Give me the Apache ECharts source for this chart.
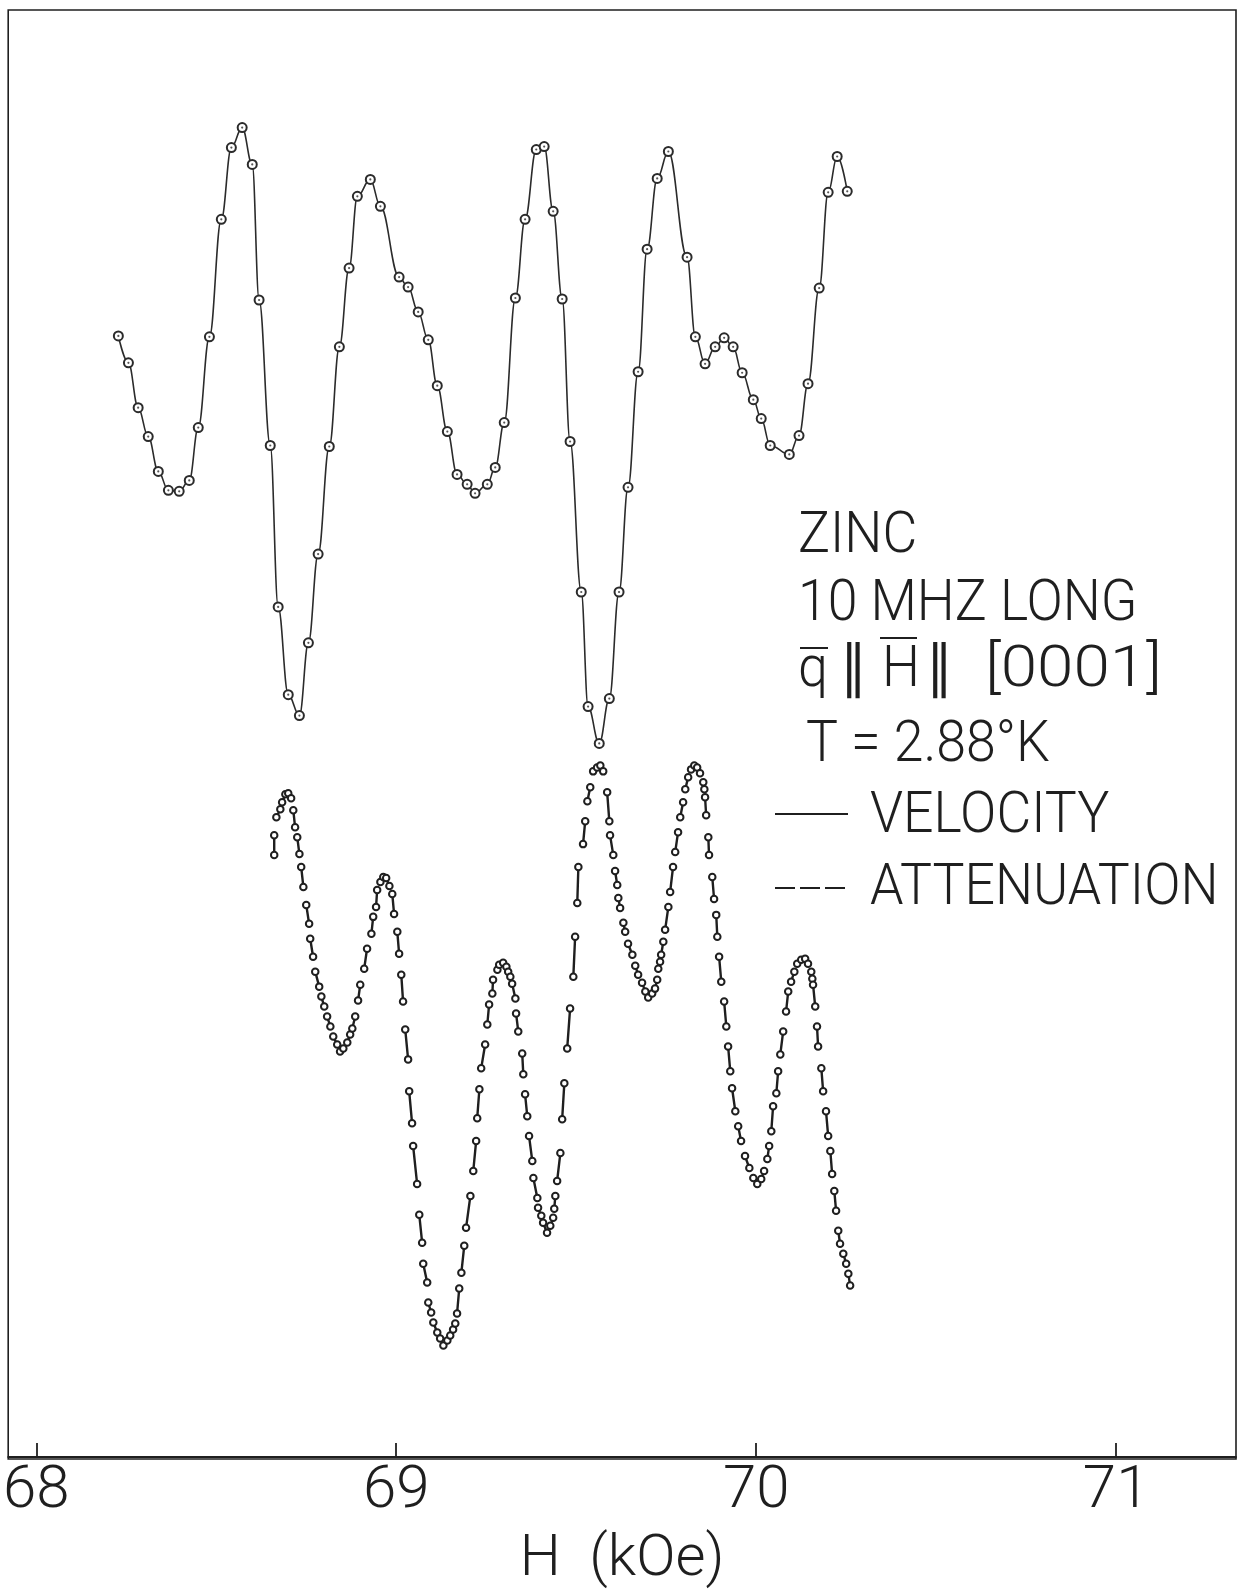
<!DOCTYPE html>
<html>
<head>
<meta charset="utf-8">
<title>Zinc 10 MHz long</title>
<script src="https://cdn.jsdelivr.net/npm/echarts@6/dist/echarts.min.js"></script>
<style>
  html, body { margin: 0; padding: 0; background: #fff; }
  #main { width: 1247px; height: 1594px; }
</style>
</head>
<body>
<div id="main"></div>
<script>
// field H (kOe) and signal (arbitrary units) - velocity
const velH = [68.228, 68.256, 68.283, 68.311, 68.339, 68.367, 68.397, 68.425, 68.450, 68.481,
  68.514, 68.542, 68.572, 68.600, 68.619, 68.650, 68.672, 68.700, 68.731, 68.756,
  68.783, 68.814, 68.842, 68.869, 68.892, 68.928, 68.956, 69.008, 69.033, 69.061,
  69.089, 69.114, 69.142, 69.169, 69.197, 69.219, 69.253, 69.275, 69.300, 69.331,
  69.358, 69.389, 69.411, 69.436, 69.461, 69.483, 69.514, 69.533, 69.564, 69.592,
  69.619, 69.644, 69.672, 69.697, 69.725, 69.756, 69.808, 69.831, 69.858, 69.886,
  69.911, 69.936, 69.961, 69.992, 70.014, 70.039, 70.092, 70.119, 70.144, 70.175,
  70.200, 70.225, 70.253];
const velSig = [112.5, 109.8, 105.3, 102.4, 98.9, 97.0, 96.9, 98.0, 103.3, 112.4,
  124.2, 131.4, 133.4, 129.7, 116.1, 101.5, 85.3, 76.5, 74.4, 81.7,
  90.6, 101.4, 111.4, 119.3, 126.5, 128.2, 125.5, 118.4, 117.4, 114.9,
  112.1, 107.5, 102.9, 98.6, 97.6, 96.7, 97.6, 99.3, 103.8, 116.3,
  124.2, 131.2, 131.5, 125.0, 116.2, 101.9, 86.8, 75.3, 71.6, 76.1,
  86.8, 97.3, 108.9, 121.2, 128.3, 131.0, 120.4, 112.4, 109.7, 111.4,
  112.3, 111.4, 108.8, 106.1, 104.2, 101.5, 100.6, 102.5, 107.7, 117.3,
  126.9, 130.5, 127.0];

// attenuation: plotted points, every two consecutive points form one dash
const attH = [68.661, 68.661, 68.667, 68.678, 68.683, 68.692, 68.700, 68.708, 68.714, 68.719,
  68.725, 68.731, 68.736, 68.742, 68.750, 68.758, 68.761, 68.769, 68.775, 68.786,
  68.792, 68.800, 68.808, 68.817, 68.825, 68.836, 68.844, 68.853, 68.864, 68.872,
  68.878, 68.886, 68.894, 68.900, 68.911, 68.919, 68.931, 68.936, 68.944, 68.947,
  68.956, 68.964, 68.972, 68.981, 68.989, 68.994, 69.003, 69.008, 69.014, 69.019,
  69.025, 69.033, 69.036, 69.044, 69.047, 69.058, 69.064, 69.072, 69.075, 69.086,
  69.089, 69.097, 69.103, 69.114, 69.122, 69.131, 69.142, 69.150, 69.158, 69.164,
  69.169, 69.175, 69.181, 69.189, 69.194, 69.206, 69.214, 69.222, 69.225, 69.231,
  69.236, 69.247, 69.253, 69.258, 69.267, 69.269, 69.281, 69.286, 69.297, 69.306,
  69.311, 69.317, 69.322, 69.331, 69.333, 69.339, 69.350, 69.353, 69.358, 69.364,
  69.369, 69.378, 69.381, 69.392, 69.394, 69.403, 69.408, 69.419, 69.428, 69.436,
  69.439, 69.442, 69.447, 69.456, 69.461, 69.467, 69.475, 69.483, 69.492, 69.497,
  69.503, 69.506, 69.519, 69.525, 69.531, 69.539, 69.547, 69.558, 69.567, 69.575,
  69.586, 69.592, 69.594, 69.603, 69.608, 69.614, 69.617, 69.622, 69.631, 69.636,
  69.644, 69.656, 69.664, 69.672, 69.683, 69.692, 69.700, 69.711, 69.719, 69.725,
  69.728, 69.733, 69.736, 69.742, 69.747, 69.756, 69.761, 69.769, 69.775, 69.783,
  69.789, 69.797, 69.803, 69.811, 69.819, 69.828, 69.836, 69.844, 69.853, 69.856,
  69.858, 69.861, 69.867, 69.869, 69.878, 69.883, 69.889, 69.892, 69.897, 69.903,
  69.911, 69.917, 69.922, 69.928, 69.933, 69.942, 69.950, 69.958, 69.969, 69.981,
  69.992, 70.003, 70.014, 70.022, 70.031, 70.036, 70.042, 70.047, 70.056, 70.061,
  70.067, 70.075, 70.083, 70.089, 70.097, 70.106, 70.114, 70.125, 70.136, 70.144,
  70.153, 70.156, 70.158, 70.164, 70.169, 70.172, 70.181, 70.186, 70.194, 70.200,
  70.206, 70.211, 70.217, 70.222, 70.228, 70.233, 70.242, 70.250, 70.256, 70.261];
const attSig = [60.4, 62.4, 64.2, 65.0, 65.7, 66.5, 66.6, 66.1, 64.9, 63.2,
  62.2, 60.5, 59.2, 57.2, 55.4, 53.5, 52.0, 50.2, 48.7, 47.2,
  46.2, 45.2, 44.2, 43.2, 42.2, 41.4, 40.7, 41.0, 41.6, 42.4,
  43.0, 44.2, 45.8, 47.4, 49.0, 51.0, 52.5, 54.2, 55.2, 56.9,
  57.7, 58.2, 58.1, 57.3, 56.5, 54.5, 52.7, 50.5, 48.4, 45.7,
  42.9, 39.9, 36.7, 33.5, 31.2, 27.4, 24.3, 21.5, 19.4, 17.5,
  15.5, 14.5, 13.5, 12.5, 11.9, 11.2, 11.7, 12.2, 12.8, 13.4,
  14.4, 16.9, 18.5, 21.2, 23.0, 26.2, 28.7, 31.7, 34.0, 36.9,
  39.0, 41.4, 43.4, 45.4, 46.5, 47.9, 48.9, 49.4, 49.6, 49.2,
  48.7, 48.2, 47.5, 46.0, 44.5, 42.7, 40.5, 38.4, 36.4, 34.2,
  32.2, 29.7, 28.0, 26.0, 25.0, 24.2, 23.5, 22.5, 23.2, 24.0,
  24.9, 26.2, 27.7, 30.5, 33.9, 37.5, 41.0, 45.0, 48.2, 52.2,
  55.6, 59.2, 61.5, 63.8, 65.8, 67.2, 68.8, 69.2, 69.4, 68.8,
  66.7, 63.8, 62.4, 60.4, 58.8, 57.4, 56.1, 55.1, 53.6, 52.7,
  51.5, 50.4, 49.3, 48.4, 47.6, 46.7, 46.1, 46.5, 47.0, 47.9,
  49.0, 49.7, 50.4, 51.7, 52.9, 55.2, 56.7, 59.2, 60.7, 62.7,
  64.2, 65.7, 67.0, 68.2, 69.0, 69.4, 69.2, 68.6, 67.7, 67.0,
  66.2, 64.4, 62.2, 60.4, 58.2, 56.0, 54.4, 52.2, 50.2, 47.7,
  45.7, 43.2, 41.2, 38.7, 37.0, 34.7, 33.2, 31.7, 30.2, 29.0,
  28.0, 27.4, 27.9, 28.7, 29.9, 31.2, 32.7, 35.2, 36.5, 38.7,
  40.4, 42.7, 44.7, 46.7, 47.7, 48.7, 49.5, 49.9, 50.0, 49.5,
  48.7, 48.0, 47.4, 45.2, 43.2, 41.2, 39.0, 36.7, 34.7, 32.2,
  30.7, 28.4, 26.7, 24.7, 22.7, 21.4, 20.4, 19.4, 18.4, 17.2];

const tickValues = [68, 69, 70, 71];
const infoLines = ['ZINC', '10 MHZ LONG', 'T = 2.88\u00b0K'];
const vectorParts = ['q', '\u2225', 'H', '\u2225', '[0001]'];
const legendNames = ['VELOCITY', 'ATTENUATION'];

const ink = '#1f1f1f';
const font = 'Roboto, "Liberation Sans", "DejaVu Sans", sans-serif';

const velData = velH.map((h, i) => [h, velSig[i]]);
const attData = [];
for (let i = 0; i < attH.length; i += 2) {
  attData.push([attH[i], attSig[i]], [attH[i + 1], attSig[i + 1]], [attH[i + 1], '-']);
}

const chart = echarts.init(document.getElementById('main'));

function label(t, x, y, sx) {
  return {
    type: 'text', x: x, y: y, scaleX: sx || 0.94,
    style: { text: t, fill: ink, font: '300 57px ' + font, textAlign: 'left', textVerticalAlign: 'top' }
  };
}

// text block at the right
const graphics = [];
graphics.push(label(infoLines[0], 798, 509));
graphics.push(label(infoLines[1], 798, 577));
graphics.push(label(infoLines[2], 806, 718));
const partX = [798, 840, 882, 926, 985];
const partScale = [0.94, 0.94, 0.94, 0.94, 1.15];
vectorParts.forEach((t, i) => graphics.push(label(t, partX[i], 643, partScale[i])));
// vector bars over q and H
graphics.push({ type: 'line', shape: { x1: 800, y1: 648, x2: 828, y2: 648 }, style: { stroke: ink, lineWidth: 2 } });
graphics.push({ type: 'line', shape: { x1: 880, y1: 638, x2: 917, y2: 638 }, style: { stroke: ink, lineWidth: 2 } });
// legend keys
graphics.push({ type: 'line', shape: { x1: 775, y1: 814, x2: 848, y2: 814 }, style: { stroke: ink, lineWidth: 2.2 } });
graphics.push({ type: 'line', shape: { x1: 775, y1: 888, x2: 850, y2: 888 }, style: { stroke: ink, lineWidth: 2.2, lineDash: [20, 5] } });
legendNames.forEach((t, i) => graphics.push(label(t, 870, 789 + i * 72)));

chart.setOption({
  backgroundColor: '#ffffff',
  animation: false,
  grid: {
    left: 8, right: 11, top: 10, bottom: 130,
    show: true, borderColor: ink, borderWidth: 1.6, backgroundColor: 'transparent'
  },
  xAxis: {
    type: 'value',
    min: 67.922,
    max: 71.333,
    name: 'H  (kOe)',
    nameLocation: 'middle',
    nameGap: 72,
    nameTextStyle: { fontFamily: font, fontWeight: 300, fontSize: 58, color: ink },
    axisLine: { show: true, lineStyle: { color: ink, width: 1.8 } },
    axisTick: { show: true, inside: true, length: 14, lineStyle: { color: ink, width: 1.8 }, customValues: tickValues },
    axisLabel: { show: true, margin: 3, fontFamily: font, fontWeight: 300, fontSize: 60, color: ink, customValues: tickValues },
    splitLine: { show: false }
  },
  yAxis: {
    type: 'value',
    min: -0.2,
    max: 145.2,
    show: false
  },
  graphic: graphics,
  series: [
    {
      name: 'VELOCITY',
      type: 'line',
      data: velData,
      smooth: 0.4,
      smoothMonotone: 'x',
      symbol: 'emptyCircle',
      symbolSize: 9,
      lineStyle: { color: '#2b2b2b', width: 1.6 },
      itemStyle: { color: '#2b2b2b', borderWidth: 1.4 },
      z: 3
    },
    {
      name: 'VELOCITY points',
      type: 'scatter',
      data: velData,
      symbolSize: 2.2,
      itemStyle: { color: '#2b2b2b' },
      z: 4
    },
    {
      name: 'ATTENUATION',
      type: 'line',
      data: attData,
      connectNulls: false,
      symbol: 'emptyCircle',
      symbolSize: 6.5,
      lineStyle: { color: ink, width: 2.4 },
      itemStyle: { color: ink, borderWidth: 1.8 },
      z: 3
    }
  ]
});
</script>
</body>
</html>
